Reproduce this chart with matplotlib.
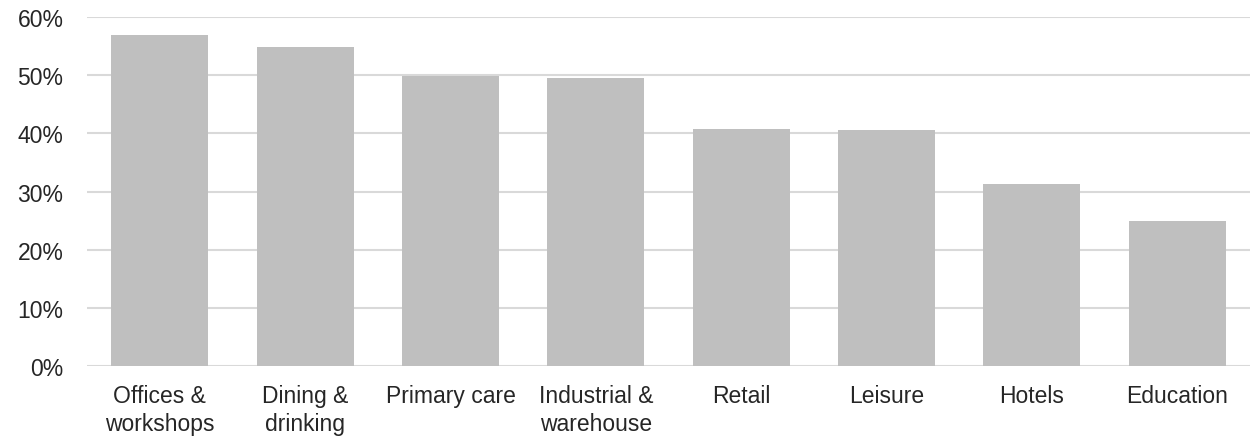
import numpy as np
from matplotlib import pyplot as plt
from matplotlib.ticker import PercentFormatter

categories = ["Offices &\nworkshops", "Dining &\ndrinking", "Primary care",
              "Industrial &\nwarehouse", "Retail", "Leisure", "Hotels", "Education"]
shares = [56.9, 54.9, 49.9, 49.5, 40.7, 40.5, 31.3, 24.9]
y_ticks = [0, 10, 20, 30, 40, 50, 60]

plt.rcParams['font.family'] = ['Liberation Sans', 'DejaVu Sans']

fig = plt.figure(figsize=(12.56, 4.39), dpi=100)
ax = fig.add_axes([0.0693, 0.164, 0.9259, 0.795])

x_pos = np.arange(len(categories))
ax.bar(x_pos, shares, width=0.667, color="#bfbfbf", zorder=2)

ax.set_xlim(-0.5, len(categories) - 0.5)
ax.set_ylim(0, 60)
ax.set_yticks(y_ticks)
ax.yaxis.set_major_formatter(PercentFormatter(decimals=0))
ax.set_xticks(x_pos)
ax.set_xticklabels(categories, linespacing=1.25)
ax.grid(axis="y", color="#d9d9d9", linewidth=1.5, zorder=0)
for side in ["top", "right", "left", "bottom"]:
    ax.spines[side].set_visible(False)
ax.tick_params(axis="both", length=0, labelsize=16.5, labelcolor="#262626")
ax.tick_params(axis="y", pad=17)
ax.tick_params(axis="x", pad=13)

fig.savefig("out.png", dpi=100)
